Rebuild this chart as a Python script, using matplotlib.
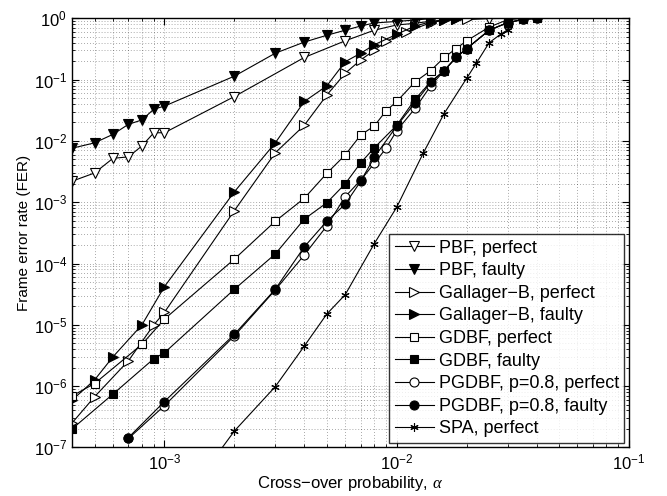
import matplotlib
matplotlib.use("Agg")
from matplotlib import pyplot as plt

plt.rcParams['font.family'] = ['Liberation Sans', 'DejaVu Sans']
plt.rcParams['mathtext.fontset'] = 'custom'
plt.rcParams['mathtext.rm'] = 'Liberation Sans'
plt.rcParams['mathtext.it'] = 'Liberation Serif:italic'

# PBF
pbf_p_x = [4e-4, 5e-4, 6e-4, 7e-4, 8e-4, 9e-4, 1e-3, 2e-3, 4e-3, 6e-3, 8e-3, 1e-2, 1.2e-2, 1.4e-2, 2.5e-2, 3e-2]
pbf_p_y = [2.2e-3, 3.0e-3, 5.2e-3, 5.5e-3, 8.3e-3, 1.36e-2, 1.36e-2, 5.3e-2, 0.23, 0.43, 0.64, 0.78, 0.83, 0.9, 0.99, 1.0]
pbf_f_x = [4e-4, 5e-4, 6e-4, 7e-4, 8e-4, 9e-4, 1e-3, 2e-3, 3e-3, 4e-3, 5e-3, 6e-3, 7e-3, 8e-3, 1e-2, 1.2e-2, 1.4e-2]
pbf_f_y = [7.6e-3, 9.3e-3, 1.28e-2, 1.87e-2, 2.2e-2, 3.3e-2, 3.7e-2, 0.114, 0.27, 0.41, 0.53, 0.64, 0.75, 0.84, 0.89, 0.94, 0.99]

# Gallager-B
gb_p_x = [4e-4, 5e-4, 7e-4, 9e-4, 1e-3, 2e-3, 3e-3, 4e-3, 5e-3, 6e-3, 7e-3, 8e-3, 9e-3, 1.1e-2, 1.4e-2, 1.6e-2, 1.8e-2, 2e-2]
gb_p_y = [2.5e-7, 6.7e-7, 2.6e-6, 1.0e-5, 1.6e-5, 7.3e-4, 6.4e-3, 1.8e-2, 5.6e-2, 0.127, 0.21, 0.3, 0.42, 0.6, 0.85, 0.93, 0.97, 0.99]
gb_f_x = [4e-4, 5e-4, 6e-4, 8e-4, 1e-3, 2e-3, 3e-3, 4e-3, 5e-3, 6e-3, 7e-3, 8e-3, 1e-2, 1.2e-2, 1.4e-2, 1.6e-2, 1.8e-2]
gb_f_y = [5.9e-7, 1.26e-6, 3.0e-6, 1.0e-5, 4.2e-5, 1.48e-3, 9.3e-3, 4.4e-2, 7.9e-2, 0.196, 0.27, 0.37, 0.55, 0.75, 0.88, 0.95, 0.98]

# GDBF
gd_p_x = [4e-4, 5e-4, 8e-4, 1e-3, 2e-3, 3e-3, 4e-3, 5e-3, 6e-3, 7e-3, 8e-3, 9e-3, 1e-2, 1.2e-2, 1.4e-2, 1.6e-2, 1.8e-2, 2e-2, 2.5e-2, 3e-2, 3.5e-2]
gd_p_y = [6.9e-7, 1.1e-6, 4.8e-6, 1.24e-5, 1.18e-4, 4.9e-4, 1.16e-3, 2.96e-3, 5.9e-3, 1.25e-2, 1.75e-2, 3.1e-2, 4.4e-2, 9.2e-2, 0.14, 0.23, 0.32, 0.43, 0.72, 0.95, 1.0]
gd_f_x = [4e-4, 6e-4, 9e-4, 1e-3, 2e-3, 3e-3, 4e-3, 5e-3, 6e-3, 7e-3, 8e-3, 1e-2, 1.2e-2, 1.4e-2, 1.6e-2, 1.8e-2, 2e-2, 2.5e-2, 3e-2, 3.5e-2, 4e-2]
gd_f_y = [2.0e-7, 7.4e-7, 2.8e-6, 3.5e-6, 3.8e-5, 1.43e-4, 5.3e-4, 9.8e-4, 2.0e-3, 4.4e-3, 7.7e-3, 1.8e-2, 4.8e-2, 9.2e-2, 0.14, 0.23, 0.32, 0.64, 0.85, 0.96, 1.0]

# PGDBF, p=0.8
pg_p_x = [7e-4, 1e-3, 2e-3, 3e-3, 4e-3, 5e-3, 6e-3, 7e-3, 8e-3, 9e-3, 1e-2, 1.2e-2, 1.4e-2, 1.6e-2, 1.8e-2, 2e-2, 2.5e-2, 3e-2, 3.5e-2, 4e-2]
pg_p_y = [1.4e-7, 4.8e-7, 6.6e-6, 3.7e-5, 1.38e-4, 4.1e-4, 1.23e-3, 2.3e-3, 4.3e-3, 7.6e-3, 1.47e-2, 3.4e-2, 7.9e-2, 0.14, 0.23, 0.32, 0.64, 0.85, 0.96, 1.0]
pg_f_x = [7e-4, 1e-3, 2e-3, 3e-3, 4e-3, 5e-3, 6e-3, 7e-3, 8e-3, 1e-2, 1.2e-2, 1.4e-2, 1.6e-2, 1.8e-2, 2e-2, 2.5e-2, 3e-2, 3.5e-2, 4e-2]
pg_f_y = [1.45e-7, 5.6e-7, 7.0e-6, 3.8e-5, 1.87e-4, 4.9e-4, 9.3e-4, 2.2e-3, 5.4e-3, 1.75e-2, 4.2e-2, 9.0e-2, 0.14, 0.23, 0.32, 0.64, 0.85, 0.96, 1.0]

# SPA
spa_x = [1.7e-3, 2e-3, 3e-3, 4e-3, 5e-3, 6e-3, 8e-3, 1e-2, 1.3e-2, 1.6e-2, 2e-2, 2.2e-2, 2.5e-2, 2.8e-2, 3e-2]
spa_y = [8e-8, 1.85e-7, 9.8e-7, 4.5e-6, 1.5e-5, 3.1e-5, 2.1e-4, 8.3e-4, 6.3e-3, 2.8e-2, 0.105, 0.185, 0.4, 0.55, 0.65]
spa_marked = [False] + [True] * 14

series = [
    (pbf_p_x, pbf_p_y, "v", "white", "PBF, perfect"),
    (pbf_f_x, pbf_f_y, "v", "black", "PBF, faulty"),
    (gb_p_x, gb_p_y, ">", "white", "Gallager\u2212B, perfect"),
    (gb_f_x, gb_f_y, ">", "black", "Gallager\u2212B, faulty"),
    (gd_p_x, gd_p_y, "s", "white", "GDBF, perfect"),
    (gd_f_x, gd_f_y, "s", "black", "GDBF, faulty"),
    (pg_p_x, pg_p_y, "o", "white", "PGDBF, p=0.8, perfect"),
    (pg_f_x, pg_f_y, "o", "black", "PGDBF, p=0.8, faulty"),
]

fig = plt.figure(figsize=(6.67, 4.96), dpi=100)
ax = fig.add_axes([0.108, 0.098, 0.835, 0.865])

sizes = {"v": 7.5, ">": 7.5, "s": 5.5, "o": 6.5}
for x, y, m, fc, lab in series:
    ax.plot(x, y, "-", color="black", lw=0.8, marker=m, ms=sizes[m],
            mfc=fc, mec="black", mew=0.8, label=lab)
ax.plot(spa_x, spa_y, "-", color="black", lw=0.8, marker=(6, 2, 0), ms=6,
        mec="black", mew=0.8, markevery=spa_marked, label="SPA, perfect")

ax.set_xscale("log")
ax.set_yscale("log")
ax.set_xlim(4e-4, 1e-1)
ax.set_ylim(1e-7, 1)
ax.set_yticks([1e-7, 1e-6, 1e-5, 1e-4, 1e-3, 1e-2, 1e-1, 1e0])
ax.grid(True, which="both", color="black", lw=0.6, alpha=0.45,
        linestyle=(0, (1, 2.5)))
ax.tick_params(which="both", direction="in", top=True, right=True, labelsize=12)
ax.tick_params(which="major", length=5)
ax.tick_params(which="minor", length=2.5)
for s in ax.spines.values():
    s.set_linewidth(1.0)

ax.set_xlabel("Cross\u2212over probability, $\\alpha$", fontsize=12, labelpad=1)
ax.set_ylabel("Frame error rate (FER)", fontsize=11, labelpad=2)

leg = ax.legend(loc="lower right", fontsize=13, frameon=True, fancybox=False,
                edgecolor="black", borderpad=0.3, labelspacing=0.31,
                handlelength=2.2, handletextpad=0.25, borderaxespad=0.25)
leg.get_frame().set_linewidth(1.0)

plt.savefig("out.png", dpi=100)
